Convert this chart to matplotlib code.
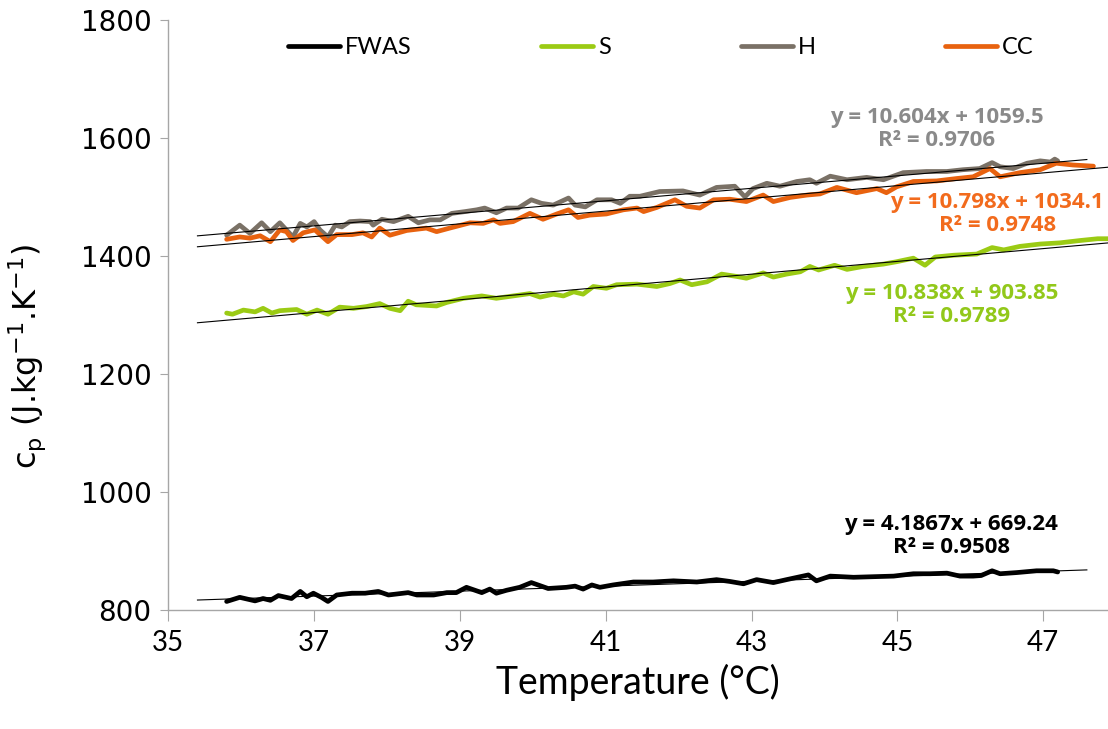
import matplotlib
matplotlib.use("Agg")
import matplotlib.pyplot as plt
import numpy as np

# ---------------- data ----------------
fwas_t = [35.8, 35.98, 36.19, 36.3, 36.4, 36.51, 36.69, 36.81, 36.9, 36.99, 37.1, 37.19, 37.31, 37.52, 37.7,
          37.88, 38.02, 38.29, 38.41, 38.64, 38.82, 38.95, 39.09, 39.3, 39.41, 39.5, 39.64, 39.82, 39.98, 40.21,
          40.46, 40.58, 40.69, 40.81, 40.92, 41.1, 41.38, 41.65, 41.93, 42.25, 42.52, 42.7, 42.89, 43.07, 43.3,
          43.48, 43.78, 43.89, 44.08, 44.4, 44.67, 44.95, 45.22, 45.45, 45.68, 45.86, 46.04, 46.15, 46.3, 46.41,
          46.64, 46.91, 47.14, 47.2]
fwas_cp = [815, 822, 816, 820, 817, 825, 820, 832, 823, 829, 822, 815, 826, 829, 829,
           832, 826, 830, 826, 826, 830, 830, 839, 830, 836, 829, 834, 839, 847, 837,
           839, 841, 836, 843, 839, 843, 848, 848, 850, 848, 852, 849, 845, 852, 847,
           852, 860, 850, 858, 856, 857, 858, 862, 862, 863, 858, 858, 859, 867, 862,
           864, 867, 867, 865]

s_t = [35.8, 35.88, 36.03, 36.19, 36.3, 36.42, 36.53, 36.76, 36.9, 37.04, 37.19, 37.35, 37.54, 37.72, 37.9,
       38.04, 38.18, 38.29, 38.4, 38.68, 38.82, 39.05, 39.3, 39.5, 39.73, 39.96, 40.1, 40.28, 40.42, 40.56,
       40.69, 40.83, 41.01, 41.15, 41.43, 41.7, 41.88, 42.02, 42.18, 42.39, 42.59, 42.8, 42.93, 43.16, 43.3,
       43.48, 43.67, 43.8, 43.92, 44.14, 44.31, 44.53, 44.81, 44.99, 45.22, 45.38, 45.52, 45.77, 46.09, 46.3,
       46.46, 46.68, 46.96, 47.23, 47.51, 47.75, 47.9]
s_cp = [1304, 1302, 1309, 1306, 1312, 1304, 1308, 1310, 1302, 1309, 1302, 1314, 1312, 1315, 1320,
        1312, 1308, 1324, 1318, 1316, 1322, 1329, 1333, 1329, 1333, 1337, 1331, 1336, 1333, 1340,
        1336, 1349, 1346, 1352, 1353, 1349, 1354, 1360, 1352, 1357, 1370, 1366, 1363, 1372, 1365,
        1370, 1374, 1383, 1377, 1385, 1378, 1383, 1387, 1391, 1397, 1385, 1399, 1402, 1404, 1415,
        1411, 1417, 1421, 1423, 1427, 1430, 1430]

h_t = [35.8, 35.98, 36.12, 36.28, 36.4, 36.53, 36.71, 36.81, 36.9, 37.0, 37.08, 37.19, 37.29, 37.38, 37.49,
       37.63, 37.77, 37.81, 37.93, 38.09, 38.29, 38.43, 38.59, 38.73, 38.89, 39.07, 39.23, 39.34, 39.5, 39.64,
       39.8, 39.98, 40.12, 40.28, 40.49, 40.58, 40.72, 40.88, 41.08, 41.2, 41.33, 41.47, 41.74, 42.06, 42.29,
       42.52, 42.77, 42.91, 43.02, 43.21, 43.39, 43.62, 43.8, 43.89, 44.08, 44.31, 44.58, 44.81, 45.08, 45.4,
       45.68, 45.9, 46.13, 46.3, 46.41, 46.59, 46.78, 46.96, 47.1, 47.16, 47.2]
h_cp = [1436, 1453, 1439, 1457, 1442, 1457, 1433, 1456, 1450, 1459, 1445, 1433, 1453, 1450, 1459,
        1460, 1459, 1453, 1463, 1459, 1468, 1457, 1462, 1462, 1473, 1476, 1479, 1482, 1474, 1482,
        1482, 1496, 1490, 1487, 1499, 1487, 1484, 1496, 1496, 1490, 1502, 1502, 1510, 1511, 1504,
        1517, 1519, 1501, 1515, 1524, 1519, 1527, 1530, 1524, 1536, 1530, 1534, 1530, 1542, 1544,
        1544, 1547, 1549, 1559, 1552, 1549, 1558, 1562, 1560, 1565, 1562]

cc_t = [35.8, 35.98, 36.12, 36.26, 36.4, 36.53, 36.62, 36.71, 36.85, 37.01, 37.19, 37.31, 37.52, 37.67, 37.79,
        37.9, 38.04, 38.27, 38.54, 38.68, 38.86, 39.14, 39.32, 39.46, 39.55, 39.73, 39.96, 40.14, 40.33, 40.49,
        40.62, 40.78, 41.01, 41.24, 41.43, 41.52, 41.7, 41.95, 42.11, 42.29, 42.48, 42.7, 42.93, 43.16, 43.3,
        43.53, 43.76, 43.94, 44.17, 44.44, 44.72, 44.85, 44.99, 45.22, 45.54, 45.81, 46.04, 46.27, 46.41, 46.68,
        46.96, 47.18, 47.41, 47.69]
cc_cp = [1429, 1433, 1431, 1435, 1425, 1445, 1442, 1427, 1440, 1445, 1425, 1437, 1437, 1440, 1433,
         1448, 1436, 1444, 1448, 1442, 1448, 1457, 1456, 1462, 1456, 1459, 1473, 1463, 1472, 1479,
         1466, 1470, 1472, 1479, 1482, 1476, 1483, 1496, 1485, 1482, 1496, 1497, 1493, 1504, 1493,
         1500, 1504, 1506, 1517, 1508, 1515, 1508, 1518, 1527, 1528, 1532, 1535, 1549, 1535, 1542,
         1547, 1558, 1555, 1553]

series_names = ["FWAS", "S", "H", "CC"]
# linear trend coefficients (slope, intercept) and R² as printed on the chart
trend_slope = [4.1867, 10.838, 10.604, 10.798]
trend_icpt = [669.24, 903.85, 1059.5, 1034.1]
trend_r2 = ["0.9508", "0.9789", "0.9706", "0.9748"]
trend_x0 = [35.4, 35.4, 35.4, 35.4]
trend_x1 = [47.6, 48.3, 47.6, 48.1]

x_ticks = [35, 37, 39, 41, 43, 45, 47]
y_ticks = [800, 1000, 1200, 1400, 1600, 1800]

# ---------------- styling ----------------
line_colors = ["#000000", "#9BCB14", "#7A7166", "#E8620F"]
text_colors = ["#000000", "#92C81A", "#8A8A8A", "#F26B1D"]
label_pos = [(45.74, 926), (45.74, 1318), (45.54, 1616), (46.37, 1472)]

fig = plt.figure(figsize=(11.08, 7.29), dpi=100)
ax = fig.add_axes([0.1519, 0.1628, 0.8481, 0.8091])

data = [(fwas_t, fwas_cp), (s_t, s_cp), (h_t, h_cp), (cc_t, cc_cp)]
for i, (t, cp) in enumerate(data):
    ax.plot(t, cp, color=line_colors[i], lw=3.4, solid_joinstyle="round",
            solid_capstyle="round", label=series_names[i], zorder=3)

for i in range(4):
    xs = np.array([trend_x0[i], trend_x1[i]])
    ax.plot(xs, trend_slope[i] * xs + trend_icpt[i], color="black", lw=0.8, zorder=4)

for i in range(4):
    txt = f"y = {trend_slope[i]:g}x + {trend_icpt[i]:g}\nR² = {trend_r2[i]}"
    ax.text(label_pos[i][0], label_pos[i][1], txt, color=text_colors[i], fontsize=16,
            fontweight="bold", family="Open Sans", ha="center", va="center",
            linespacing=1.1, zorder=5)

ax.set_xlim(35, 47.89)
ax.set_ylim(800, 1800)
ax.set_xticks(x_ticks)
ax.set_yticks(y_ticks)
ax.set_xticklabels([str(v) for v in x_ticks], family="Lato", fontsize=20)
ax.set_yticklabels([str(v) for v in y_ticks], family="DejaVu Sans", fontsize=20)

for sp in ["top", "right"]:
    ax.spines[sp].set_visible(False)
for sp in ["left", "bottom"]:
    ax.spines[sp].set_color("#A6A6A6")
    ax.spines[sp].set_linewidth(1.0)
ax.tick_params(axis="x", direction="out", length=8, color="#A6A6A6", pad=6)
ax.tick_params(axis="y", direction="out", length=6, color="#A6A6A6", pad=6)

ax.set_xlabel("Temperature (°C)", family="Lato", fontsize=27, labelpad=6)
ax.set_ylabel(r"c$_\mathregular{p}$ (J.kg$^\mathregular{-1}$.K$^\mathregular{-1}$)",
              family="DejaVu Sans", fontsize=23)
ax.yaxis.set_label_coords(-0.128, 0.43)

leg = ax.legend(loc="upper left", bbox_to_anchor=(0.11, 1.0), ncol=4, frameon=False,
                prop={"family": "Lato", "size": 17}, handlelength=2.2, handletextpad=0.2,
                columnspacing=5.5, borderaxespad=0.3)

fig.savefig("out.png", dpi=100)
